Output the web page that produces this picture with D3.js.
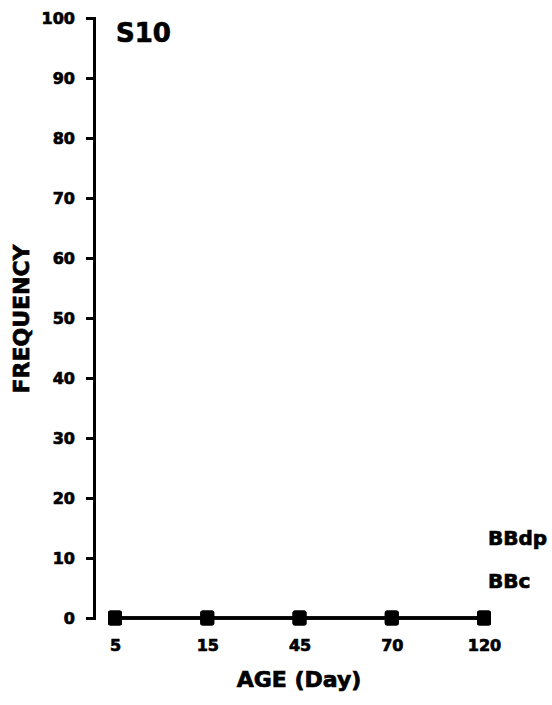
<!DOCTYPE html>
<html>
<head>
<meta charset="utf-8">
<script src="https://cdn.jsdelivr.net/npm/d3@7/dist/d3.min.js"></script>
<style>
  html, body { margin: 0; padding: 0; background: #fff; }
  svg text { font-family: "DejaVu Sans", sans-serif; font-weight: bold; fill: #000;
             stroke: #000; stroke-width: 0.7px; }
</style>
</head>
<body>
<svg id="chart" width="552" height="705"></svg>
<script>
// Sampling ages (days) and observed frequencies per series
const ages = ["5", "15", "45", "70", "120"];
const bbdp = [0, 0, 0, 0, 0];
const bbc = [0, 0, 0, 0, 0];
const yTicks = [0, 10, 20, 30, 40, 50, 60, 70, 80, 90, 100];
const seriesNames = ["BBdp", "BBc"];

const svg = d3.select("#chart");
const margin = { left: 94, top: 18, right: 68, bottom: 87 };
const W = 552, H = 705;

const x = d3.scalePoint().domain(ages).range([115, 484]);
const y = d3.scaleLinear().domain([0, 100]).range([H - margin.bottom, margin.top]);

// Y axis with end caps pointing left
const yAxis = d3.axisLeft(y).tickValues(yTicks).tickSize(8).tickSizeOuter(8).tickPadding(11);
const gy = svg.append("g").attr("transform", `translate(${margin.left},0)`).call(yAxis);
gy.select(".domain").attr("stroke", "#000").attr("stroke-width", 3);
gy.selectAll(".tick line").attr("stroke", "#000").attr("stroke-width", 3);
gy.selectAll(".tick text").style("font-size", "16px").attr("font-family", null);

// X tick labels (no axis line; the series line sits on zero)
const xAxis = d3.axisBottom(x).tickSize(0).tickPadding(0);
const gx = svg.append("g").attr("transform", `translate(0,${y(0) + 22})`).call(xAxis);
gx.select(".domain").remove();
gx.selectAll(".tick text").style("font-size", "16px").attr("font-family", null);

// Series lines and markers
const line = d3.line().x((d, i) => x(ages[i])).y(d => y(d));
[bbc, bbdp].forEach(vals => {
  svg.append("path").datum(vals)
    .attr("d", line).attr("fill", "none").attr("stroke", "#000").attr("stroke-width", 3.5);
  svg.append("g").selectAll("rect").data(vals).join("rect")
    .attr("x", (d, i) => x(ages[i]) - 7)
    .attr("y", d => y(d) - 7.5)
    .attr("width", 14).attr("height", 15)
    .attr("rx", 2.5)
    .attr("fill", "#000");
});

// Series labels
svg.append("text").attr("x", 488).attr("y", 545).style("font-size", "20px").text(seriesNames[0]);
svg.append("text").attr("x", 488).attr("y", 588).style("font-size", "20px").text(seriesNames[1]);

// Panel title
svg.append("text").attr("x", 116).attr("y", 42).style("font-size", "26px").text("S10");

// Axis titles
svg.append("text").attr("x", 299).attr("y", 687).attr("text-anchor", "middle")
  .style("font-size", "22px").text("AGE (Day)");
svg.append("text").attr("transform", "translate(29,319) rotate(-90)").attr("text-anchor", "middle")
  .style("font-size", "22px").text("FREQUENCY");
</script>
</body>
</html>
